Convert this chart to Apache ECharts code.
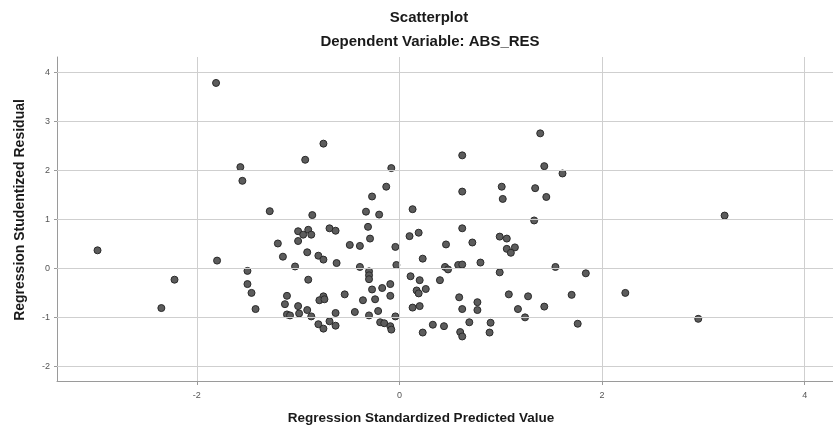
<!DOCTYPE html>
<html>
<head>
<meta charset="utf-8">
<script src="https://cdn.jsdelivr.net/npm/echarts@6/dist/echarts.min.js"></script>
<style>
  html, body { margin: 0; padding: 0; background: #ffffff; }
  #chart { width: 833px; height: 430px; }
</style>
</head>
<body>
<div id="chart"></div>
<script>
// Regression Standardized Predicted Value (x) for each case
const predicted = [
  -1.81, -1.57, -1.55, -2.98, -1.80, -1.50, -2.22, -1.50, -1.46, -2.35, -1.42,
  -0.75, -0.93, -0.08, -0.13, -0.27, -1.28, -0.86, -0.33, -0.20, 0.13,
  -0.31, -0.69, -0.63, -1.00, -0.90, -0.95, -0.87, -1.00, -0.29, 0.10,
  0.19, -1.20, -0.49, -0.39, 0.46, -0.04, -0.91, -1.15, -0.80, -0.75,
  0.23, -0.62, -1.03, -0.39, -0.03, 0.45, -0.30, -0.30, -0.30, -0.90,
  0.11, 0.20, 0.40, -0.09, -0.27, -0.17, 0.17, 0.26, 0.19, -0.54,
  -1.11, -0.09, -0.75, -0.79, -0.74, -0.36, -0.24, -1.13, -1.00, 0.13,
  0.20, -0.91, -0.44, -0.21, -1.11, -1.08, -0.99, -0.87, -0.63, -0.30,
  -0.04, -0.69, -0.80, -0.75, -0.63, -0.19, -0.15, -0.09, -0.08, 0.33,
  0.44, 0.23,
  1.39, 0.62, 1.43, 1.61, 1.01, 1.34, 0.62, 1.02, 1.45, 1.33,
  0.62, 0.99, 1.06, 0.72, 1.06, 1.14, 1.10, 0.80, 0.48, 0.58,
  0.62, 0.99, 1.54, 1.84, 2.23, 1.08, 1.27, 1.70, 0.59, 0.77,
  0.62, 0.77, 1.17, 1.43, 1.24, 0.69, 0.90, 1.76, 0.60, 0.62,
  0.89, 3.21, 2.95
];
// Regression Studentized Residual (y) for each case
const residual = [
  3.79, 2.07, 1.79, 0.37, 0.16, -0.05, -0.23, -0.32, -0.50, -0.81, -0.83,
  2.55, 2.22, 2.05, 1.67, 1.47, 1.17, 1.09, 1.16, 1.10, 1.21,
  0.85, 0.82, 0.77, 0.76, 0.79, 0.69, 0.69, 0.56, 0.61, 0.66,
  0.73, 0.51, 0.48, 0.46, 0.49, 0.44, 0.33, 0.24, 0.26, 0.18,
  0.20, 0.11, 0.04, 0.03, 0.07, 0.03, -0.06, -0.14, -0.22, -0.23,
  -0.16, -0.24, -0.24, -0.32, -0.43, -0.40, -0.45, -0.42, -0.51, -0.53,
  -0.56, -0.56, -0.57, -0.65, -0.63, -0.65, -0.63, -0.73, -0.77, -0.80,
  -0.77, -0.85, -0.89, -0.87, -0.94, -0.96, -0.92, -0.98, -0.91, -0.96,
  -0.98, -1.08, -1.14, -1.23, -1.17, -1.10, -1.12, -1.18, -1.25, -1.15,
  -1.18, -1.31,
  2.76, 2.31, 2.09, 1.94, 1.67, 1.64, 1.57, 1.42, 1.46, 0.98,
  0.82, 0.65, 0.61, 0.53, 0.40, 0.43, 0.32, 0.12, -0.02, 0.07,
  0.08, -0.08, 0.03, -0.10, -0.50, -0.53, -0.57, -0.54, -0.59, -0.69,
  -0.83, -0.85, -0.83, -0.78, -1.00, -1.10, -1.11, -1.13, -1.30, -1.39,
  -1.31, 1.08, -1.03
];
// Tick labels / gridline positions
const xTicks = [-2, 0, 2, 4];
const yTicks = [-2, -1, 0, 1, 2, 3, 4];

const points = predicted.map((x, i) => [x, residual[i]]);
const gridLines = xTicks.map(v => ({ xAxis: v })).concat(yTicks.map(v => ({ yAxis: v })));

const FONT = '"Liberation Sans", Arial, sans-serif';
const chart = echarts.init(document.getElementById('chart'), null, { renderer: 'canvas' });
chart.setOption({
  backgroundColor: '#ffffff',
  animation: false,
  title: [
    { text: 'Scatterplot', left: 424, top: 5, textAlign: 'center',
      textStyle: { fontFamily: FONT, fontSize: 15, fontWeight: 'bold', color: '#1a1a1a' } },
    { text: 'Dependent Variable: ABS_RES', left: 425, top: 29, textAlign: 'center',
      textStyle: { fontFamily: FONT, fontSize: 15, fontWeight: 'bold', color: '#1a1a1a' } }
  ],
  grid: { left: 57, right: 0, top: 57, bottom: 45, containLabel: false },
  xAxis: {
    type: 'value', min: -3.38, max: 4.28,
    name: 'Regression Standardized Predicted Value',
    nameLocation: 'middle', nameGap: 30,
    nameTextStyle: { fontFamily: FONT, fontSize: 13.5, fontWeight: 'bold', color: '#1a1a1a', padding: [0, 48, 0, 0] },
    axisLine: { show: true, onZero: false, lineStyle: { color: '#9a9a9a', width: 1 } },
    axisTick: { show: true, customValues: xTicks, length: 4, lineStyle: { color: '#9a9a9a' } },
    axisLabel: { customValues: xTicks, fontFamily: FONT, fontSize: 9, color: '#555', margin: 10 },
    splitLine: { show: false }
  },
  yAxis: {
    type: 'value', min: -2.3, max: 4.32,
    name: 'Regression Studentized Residual',
    nameLocation: 'middle', nameGap: 30,
    nameTextStyle: { fontFamily: FONT, fontSize: 14, fontWeight: 'bold', color: '#1a1a1a', padding: [0, 0, 0, 18] },
    axisLine: { show: true, onZero: false, lineStyle: { color: '#9a9a9a', width: 1 } },
    axisTick: { show: true, customValues: yTicks, length: 3, lineStyle: { color: '#9a9a9a' } },
    axisLabel: { customValues: yTicks, fontFamily: FONT, fontSize: 9, color: '#555', margin: 7 },
    splitLine: { show: false }
  },
  series: [
    {
      name: 'grid', type: 'scatter', data: [], z: 1, silent: true,
      markLine: {
        silent: true, symbol: 'none', animation: false,
        label: { show: false },
        lineStyle: { color: '#cfcfcf', width: 1, type: 'solid' },
        emphasis: { disabled: true },
        data: gridLines
      }
    },
    {
      name: 'cases', type: 'scatter', z: 3,
      symbol: 'circle', symbolSize: 7,
      itemStyle: { color: '#5c5c5c', borderColor: '#2a2a2a', borderWidth: 1, opacity: 1 },
      data: points
    }
  ]
});
</script>
</body>
</html>
